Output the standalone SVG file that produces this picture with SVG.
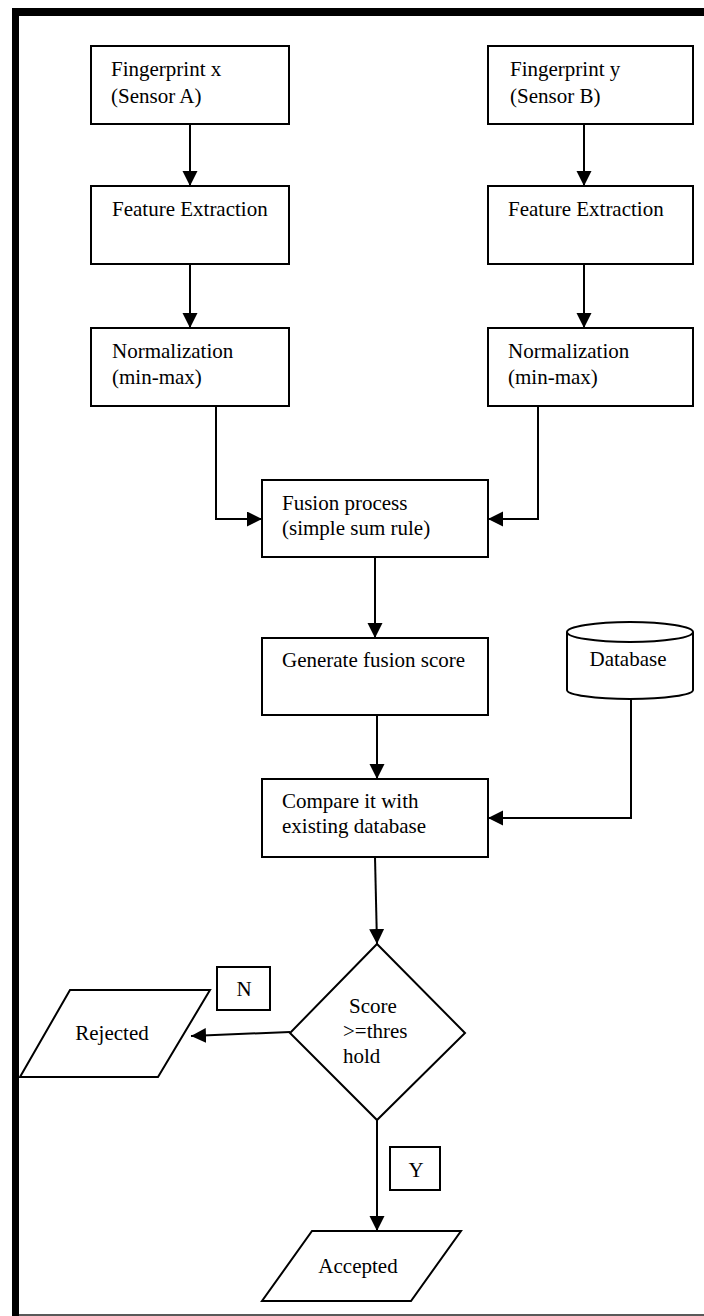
<svg xmlns="http://www.w3.org/2000/svg" width="704" height="1316" viewBox="0 0 704 1316">
<style>
.box{fill:#fff;stroke:#000;stroke-width:2}
.ln{fill:none;stroke:#000;stroke-width:2}
</style>
<defs>
<marker id="ah" markerUnits="userSpaceOnUse" markerWidth="16" markerHeight="16" refX="15" refY="7.5" orient="auto">
<path d="M0,0 L15,7.5 L0,15 z" fill="#000"/>
</marker>
</defs>
<rect x="0" y="0" width="704" height="1316" fill="#fff"/>
<g id="frame">
<rect x="12" y="8" width="692" height="8" fill="#000"/>
<rect x="12" y="8" width="7" height="1308" fill="#000"/>
<line x1="19" y1="1315" x2="704" y2="1315" stroke="#222" stroke-width="1.5"/>
</g>
<g id="connectors" class="ln">
<line x1="190" y1="124" x2="190" y2="186" marker-end="url(#ah)"/>
<line x1="190" y1="264" x2="190" y2="328" marker-end="url(#ah)"/>
<line x1="584" y1="124" x2="584" y2="186" marker-end="url(#ah)"/>
<line x1="584" y1="264" x2="584" y2="328" marker-end="url(#ah)"/>
<polyline points="216,406 216,519 262,519" marker-end="url(#ah)"/>
<polyline points="538,406 538,519 488,519" marker-end="url(#ah)"/>
<line x1="375" y1="557" x2="375" y2="638" marker-end="url(#ah)"/>
<line x1="377" y1="715" x2="377" y2="779" marker-end="url(#ah)"/>
<polyline points="631,699 631,818 488,818" marker-end="url(#ah)"/>
<line x1="375" y1="857" x2="377" y2="944" marker-end="url(#ah)"/>
<line x1="290" y1="1032" x2="191" y2="1036" marker-end="url(#ah)"/>
<line x1="377" y1="1120" x2="377" y2="1231" marker-end="url(#ah)"/>
</g>
<g font-family="Liberation Serif, Times New Roman, DejaVu Serif, serif" font-size="21" fill="#000">
<g id="fpx"><rect class="box" x="91" y="46" width="198" height="78"/>
<text x="111" y="76">Fingerprint x</text><text x="111" y="103">(Sensor A)</text></g>
<g id="fpy"><rect class="box" x="488" y="46" width="205" height="78"/>
<text x="510" y="76">Fingerprint y</text><text x="510" y="103">(Sensor B)</text></g>
<g id="fea"><rect class="box" x="91" y="186" width="198" height="78"/>
<text x="112" y="216">Feature Extraction</text></g>
<g id="feb"><rect class="box" x="488" y="186" width="205" height="78"/>
<text x="508" y="216">Feature Extraction</text></g>
<g id="nora"><rect class="box" x="91" y="328" width="198" height="78"/>
<text x="112" y="358">Normalization</text><text x="112" y="384">(min-max)</text></g>
<g id="norb"><rect class="box" x="488" y="328" width="205" height="78"/>
<text x="508" y="358">Normalization</text><text x="508" y="384">(min-max)</text></g>
<g id="fusion"><rect class="box" x="262" y="480" width="226" height="77"/>
<text x="282" y="510">Fusion process</text><text x="282" y="535">(simple sum rule)</text></g>
<g id="gen"><rect class="box" x="262" y="638" width="226" height="77"/>
<text x="282" y="667">Generate fusion score</text></g>
<g id="db">
<path class="box" d="M567,632 L567,690 A63,9 0 0 0 693,690 L693,632"/>
<ellipse class="box" cx="630" cy="632" rx="63" ry="10"/>
<text x="628" y="666" text-anchor="middle">Database</text></g>
<g id="cmp"><rect class="box" x="262" y="779" width="226" height="78"/>
<text x="282" y="808">Compare it with</text><text x="282" y="833">existing database</text></g>
<g id="dec"><polygon class="box" points="377,944 465,1033 377,1120 290,1033"/>
<text x="349" y="1013">Score</text><text x="343" y="1038">&gt;=thres</text><text x="343" y="1063">hold</text></g>
<g id="nlab"><rect class="box" x="217" y="967" width="53" height="43"/>
<text x="244" y="996" text-anchor="middle">N</text></g>
<g id="ylab"><rect class="box" x="390" y="1147" width="50" height="43"/>
<text x="416" y="1177" text-anchor="middle">Y</text></g>
<g id="rej"><polygon class="box" points="70,990 210,990 158,1077 20,1077"/>
<text x="112" y="1040" text-anchor="middle">Rejected</text></g>
<g id="acc"><polygon class="box" points="312,1231 461,1231 411,1301 262,1301"/>
<text x="358" y="1273" text-anchor="middle">Accepted</text></g>
</g>
</svg>
